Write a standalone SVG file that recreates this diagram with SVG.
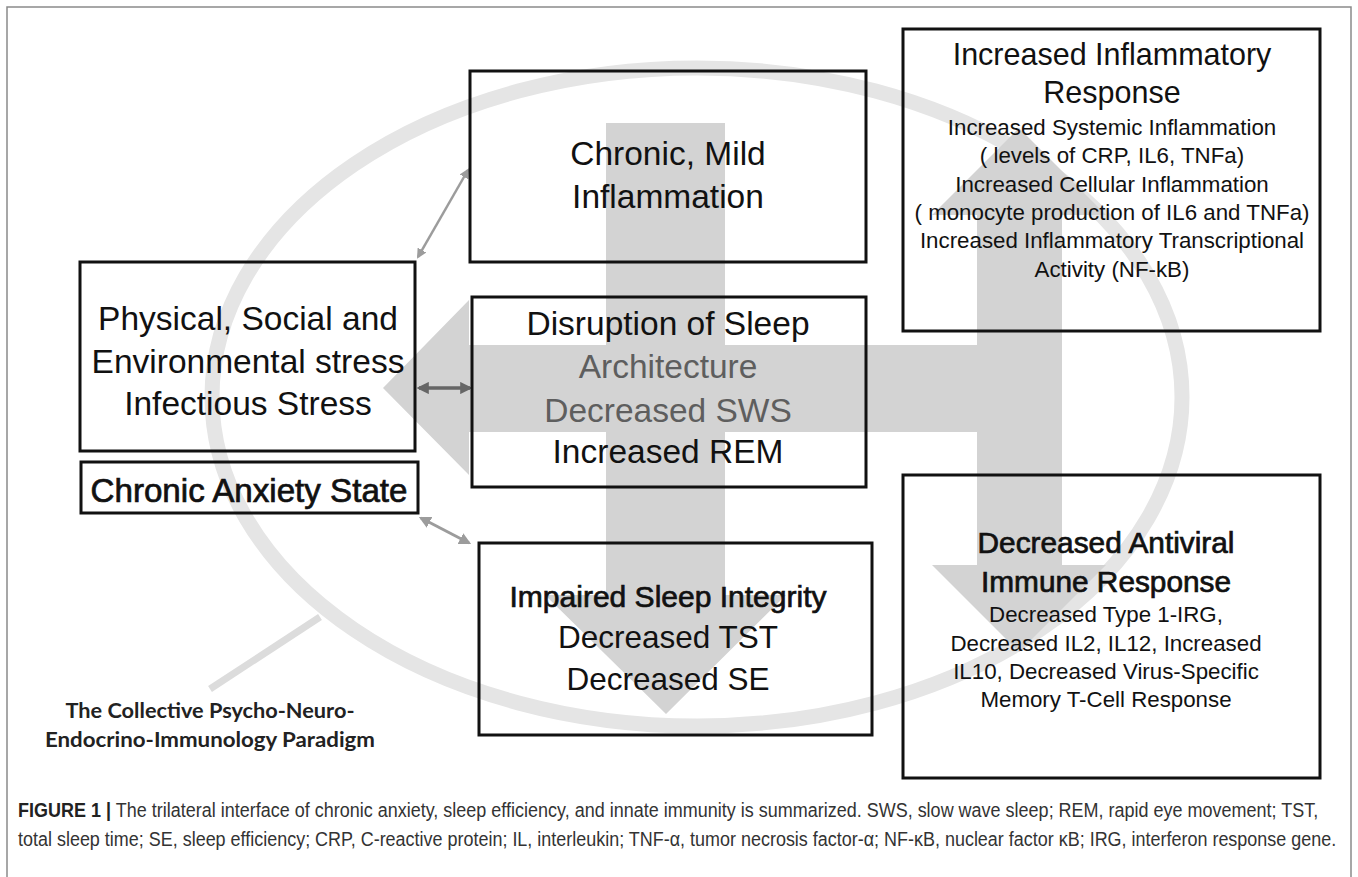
<svg xmlns="http://www.w3.org/2000/svg" width="1358" height="877" viewBox="0 0 1358 877">
<style>
.box{fill:none;stroke:#111;stroke-width:3}
.t{font-family:"Liberation Sans",Arial,sans-serif;fill:#111;text-anchor:middle}
.big{font-size:33.5px}
.sub{font-size:22.3px}
.dim{fill:#5e5e5e}
.med{stroke:#111;stroke-width:0.7px}
.band{fill:#d3d3d3}
.cap{font-family:"Liberation Sans",Arial,sans-serif;font-size:21px;fill:#333}
</style>
<defs>
<marker id="ahL" viewBox="0 0 10 10" refX="8" refY="5" markerWidth="4" markerHeight="4" orient="auto-start-reverse" markerUnits="strokeWidth">
<path d="M0,0 L10,5 L0,10 z" fill="#9c9c9c"/>
</marker>
<marker id="ahD" viewBox="0 0 10 10" refX="8" refY="5" markerWidth="3.5" markerHeight="3.5" orient="auto-start-reverse" markerUnits="strokeWidth">
<path d="M0,0 L10,5 L0,10 z" fill="#666"/>
</marker>
</defs>
<rect width="1358" height="877" fill="#fff"/>
<path d="M7,877 V7 H1351 V877" fill="none" stroke="#8a8a8a" stroke-width="1.5"/>

<g id="background">
<ellipse cx="697" cy="397" rx="485" ry="329" fill="none" stroke="#e5e5e5" stroke-width="15"/>
<line x1="210" y1="689" x2="320" y2="617" stroke="#dcdcdc" stroke-width="7"/>
<path class="band" d="M606,123 H725 V595 H786 L666,714 L545,595 H606 Z"/>
<path class="band" d="M1062,215 H1106 L1019,128 L932,215 H977 V345 H469 V300 L383,388 L469,475 V432 H977 V565 H932 L1019,652 L1106,565 H1062 Z"/>
</g>

<g id="connectors">
<line x1="418" y1="257" x2="468" y2="170" stroke="#9c9c9c" stroke-width="2.5" marker-start="url(#ahL)" marker-end="url(#ahL)"/>
<line x1="419" y1="388" x2="470" y2="388" stroke="#666" stroke-width="3.5" marker-start="url(#ahD)" marker-end="url(#ahD)"/>
<line x1="421" y1="518" x2="469" y2="543" stroke="#9c9c9c" stroke-width="3" marker-start="url(#ahL)" marker-end="url(#ahL)"/>
</g>

<g id="node-chronic-mild">
<rect class="box" x="470" y="71" width="396" height="191"/>
<text class="t big" x="668" y="165">Chronic, Mild</text>
<text class="t big" x="668" y="208">Inflammation</text>
</g>

<g id="node-physical">
<rect class="box" x="80" y="262" width="335" height="189"/>
<text class="t big" x="248" y="330">Physical, Social and</text>
<text class="t big" x="248" y="373">Environmental stress</text>
<text class="t big" x="248" y="415">Infectious Stress</text>
</g>

<g id="node-anxiety">
<rect class="box" x="81" y="462" width="337" height="51"/>
<text class="t med" x="249" y="502" font-size="33" textLength="317" lengthAdjust="spacingAndGlyphs">Chronic Anxiety State</text>
</g>

<g id="node-disruption">
<rect class="box" x="472" y="297" width="394" height="190"/>
<text class="t big" x="668" y="335">Disruption of Sleep</text>
<text class="t big dim" x="668" y="378">Architecture</text>
<text class="t big dim" x="668" y="422">Decreased SWS</text>
<text class="t big" x="668" y="463">Increased REM</text>
</g>

<g id="node-impaired">
<rect class="box" x="479" y="543" width="393" height="192"/>
<text class="t med" x="668" y="607" font-size="30" textLength="317" lengthAdjust="spacingAndGlyphs">Impaired Sleep Integrity</text>
<text class="t" x="668" y="648" font-size="31.5">Decreased TST</text>
<text class="t" x="668" y="690" font-size="31.5">Decreased SE</text>
</g>

<g id="node-inflammatory">
<rect class="box" x="903" y="29" width="417" height="302"/>
<text class="t" x="1112" y="65" font-size="30.5">Increased Inflammatory</text>
<text class="t" x="1112" y="103" font-size="30.5">Response</text>
<text class="t sub" x="1112" y="135">Increased Systemic Inflammation</text>
<text class="t sub" x="1112" y="163">( levels of CRP, IL6, TNFa)</text>
<text class="t sub" x="1112" y="192">Increased Cellular Inflammation</text>
<text class="t sub" x="1112" y="220">( monocyte production of IL6 and TNFa)</text>
<text class="t sub" x="1112" y="248">Increased Inflammatory Transcriptional</text>
<text class="t sub" x="1112" y="277">Activity (NF-kB)</text>
</g>

<g id="node-antiviral">
<rect class="box" x="903" y="475" width="417" height="303"/>
<text class="t med" x="1106" y="553" font-size="29" textLength="257" lengthAdjust="spacingAndGlyphs">Decreased Antiviral</text>
<text class="t med" x="1106" y="592" font-size="29" textLength="250" lengthAdjust="spacingAndGlyphs">Immune Response</text>
<text class="t sub" x="1106" y="622">Decreased Type 1-IRG,</text>
<text class="t sub" x="1106" y="651">Decreased IL2, IL12, Increased</text>
<text class="t sub" x="1106" y="679">IL10, Decreased Virus-Specific</text>
<text class="t sub" x="1106" y="707">Memory T-Cell Response</text>
</g>

<g id="label-paradigm">
<text x="210" y="718" font-family="Lato,'Open Sans',sans-serif" font-size="21" font-weight="bold" fill="#222" text-anchor="middle" textLength="289" lengthAdjust="spacingAndGlyphs">The Collective Psycho-Neuro-</text>
<text x="210" y="747" font-family="Lato,'Open Sans',sans-serif" font-size="21" font-weight="bold" fill="#222" text-anchor="middle" textLength="330" lengthAdjust="spacingAndGlyphs">Endocrino-Immunology Paradigm</text>
</g>

<g id="caption">
<text class="cap" transform="translate(18,817) scale(0.78,1)" x="0" y="0" textLength="1667" lengthAdjust="spacingAndGlyphs"><tspan font-weight="bold" fill="#222">FIGURE 1 |</tspan> The trilateral interface of chronic anxiety, sleep efficiency, and innate immunity is summarized. SWS, slow wave sleep; REM, rapid eye movement; TST,</text>
<text class="cap" transform="translate(18,846) scale(0.78,1)" x="0" y="0" textLength="1690" lengthAdjust="spacingAndGlyphs">total sleep time; SE, sleep efficiency; CRP, C-reactive protein; IL, interleukin; TNF-α, tumor necrosis factor-α; NF-κB, nuclear factor κB; IRG, interferon response gene.</text>
</g>
</svg>
